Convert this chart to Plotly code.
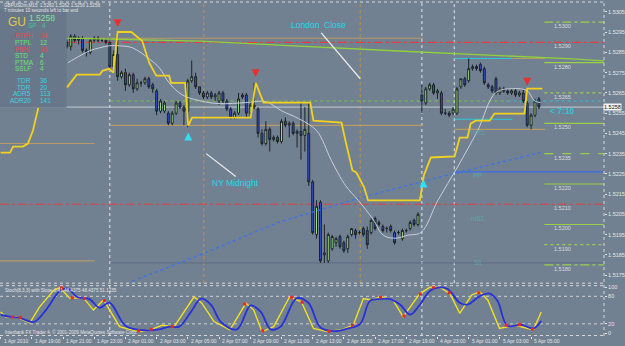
import plotly.graph_objects as go

# ------------------------------------------------------------------ data
candle_idx = list(range(17, 139))
open_ = [1.5290,1.5288,1.5293,1.5291,1.5292,1.5286,1.5285,1.5291,1.5292,1.5291,1.5291,
         1.5290,1.5278,1.5284,1.5273,1.5275,1.5269,1.5274,1.5267,1.5270,1.5270,
         1.5272,1.5269,1.5266,1.5256,1.5256,1.5255,1.5250,1.5255,1.5260,1.5258,
         1.5256,1.5271,1.5273,1.5268,1.5265,1.5263,1.5265,1.5263,1.5261,1.5265,
         1.5261,1.5257,1.5253,1.5255,1.5264,1.5264,1.5255,1.5259,1.5257,1.5245,
         1.5240,1.5247,1.5242,1.5243,1.5241,1.5251,1.5249,1.5250,1.5245,1.5246,
         1.5244,1.5245,1.5221,1.5195,1.5211,1.5185,1.5182,1.5188,1.5191,1.5194,
         1.5191,1.5188,1.5195,1.5197,1.5196,1.5198,1.5197,1.5196,1.5203,1.5200,
         1.5199,1.5198,1.5199,1.5196,1.5196,1.5193,1.5197,1.5198,1.5202,1.5200,
         1.5264,1.5260,1.5267,1.5269,1.5265,1.5265,1.5255,1.5255,1.5255,1.5255,
         1.5268,1.5272,1.5271,1.5277,1.5278,1.5279,1.5277,1.5269,1.5268,1.5272,
         1.5265,1.5267,1.5266,1.5265,1.5266,1.5264,1.5265,1.5260,1.5249,1.5254,1.5262]
high_ = [1.5291,1.5294,1.5294,1.5293,1.5293,1.5287,1.5292,1.5293,1.5293,1.5292,1.5292,
         1.5292,1.5286,1.5295,1.5276,1.5277,1.5275,1.5275,1.5272,1.5271,1.5273,
         1.5273,1.5270,1.5267,1.5262,1.5261,1.5256,1.5256,1.5261,1.5261,1.5259,
         1.5272,1.5281,1.5275,1.5268,1.5266,1.5266,1.5266,1.5265,1.5266,1.5266,
         1.5262,1.5258,1.5256,1.5265,1.5265,1.5265,1.5261,1.5270,1.5258,1.5247,
         1.5251,1.5248,1.5244,1.5244,1.5252,1.5253,1.5251,1.5251,1.5247,1.5260,
         1.5258,1.5260,1.5222,1.5212,1.5212,1.5200,1.5196,1.5195,1.5194,1.5195,
         1.5192,1.5195,1.5198,1.5198,1.5197,1.5199,1.5199,1.5203,1.5204,1.5202,
         1.5200,1.5199,1.5200,1.5197,1.5197,1.5198,1.5198,1.5202,1.5203,1.5206,
         1.5269,1.5268,1.5270,1.5270,1.5267,1.5266,1.5257,1.5256,1.5258,1.5268,
         1.5272,1.5273,1.5282,1.5279,1.5279,1.5280,1.5278,1.5270,1.5269,1.5273,
         1.5268,1.5268,1.5267,1.5267,1.5267,1.5266,1.5267,1.5261,1.5255,1.5262,1.5263]
low_ = [1.5287,1.5286,1.5290,1.5289,1.5285,1.5283,1.5284,1.5290,1.5290,1.5290,1.5289,
        1.5276,1.5277,1.5271,1.5272,1.5266,1.5268,1.5265,1.5266,1.5268,1.5269,
        1.5267,1.5265,1.5254,1.5255,1.5255,1.5249,1.5249,1.5254,1.5257,1.5249,
        1.5248,1.5270,1.5267,1.5264,1.5262,1.5262,1.5262,1.5261,1.5259,1.5260,
        1.5256,1.5252,1.5252,1.5254,1.5262,1.5253,1.5253,1.5257,1.5243,1.5239,
        1.5239,1.5236,1.5241,1.5240,1.5240,1.5248,1.5243,1.5244,1.5238,1.5232,
        1.5236,1.5219,1.5195,1.5193,1.5181,1.5181,1.5181,1.5187,1.5189,1.5188,
        1.5186,1.5186,1.5194,1.5193,1.5195,1.5194,1.5188,1.5195,1.5197,1.5199,
        1.5196,1.5196,1.5196,1.5190,1.5195,1.5192,1.5196,1.5197,1.5199,1.5199,
        1.5255,1.5259,1.5266,1.5264,1.5262,1.5254,1.5254,1.5253,1.5254,1.5254,
        1.5267,1.5268,1.5270,1.5276,1.5276,1.5275,1.5269,1.5267,1.5265,1.5264,
        1.5264,1.5265,1.5264,1.5264,1.5263,1.5263,1.5260,1.5248,1.5247,1.5253,1.5257]
close_ = [1.5288,1.5293,1.5291,1.5292,1.5286,1.5285,1.5291,1.5292,1.5291,1.5291,1.5290,
          1.5278,1.5284,1.5273,1.5275,1.5269,1.5274,1.5267,1.5270,1.5270,1.5272,
          1.5268,1.5267,1.5256,1.5261,1.5260,1.5250,1.5255,1.5260,1.5258,1.5256,
          1.5271,1.5273,1.5268,1.5265,1.5263,1.5265,1.5263,1.5264,1.5265,1.5261,
          1.5257,1.5253,1.5255,1.5262,1.5263,1.5255,1.5259,1.5258,1.5245,1.5240,
          1.5247,1.5242,1.5243,1.5241,1.5251,1.5249,1.5250,1.5245,1.5246,1.5244,
          1.5247,1.5221,1.5196,1.5209,1.5182,1.5186,1.5195,1.5194,1.5193,1.5189,
          1.5187,1.5194,1.5198,1.5195,1.5196,1.5195,1.5190,1.5202,1.5198,1.5201,
          1.5197,1.5198,1.5197,1.5191,1.5196,1.5197,1.5197,1.5201,1.5200,1.5205,
          1.5261,1.5267,1.5269,1.5265,1.5266,1.5255,1.5255,1.5254,1.5257,1.5267,
          1.5272,1.5269,1.5277,1.5278,1.5277,1.5276,1.5270,1.5268,1.5266,1.5265,
          1.5267,1.5266,1.5265,1.5266,1.5264,1.5265,1.5261,1.5249,1.5254,1.5261,1.5258]

# stepped yellow indicator (vertices)
yellow_idx = [0, 2.4, 3.2, 5.7, 7.0, 8.3, 10.1, 11.3, 17.2, 19.5, 25.4, 26.1, 27.9, 28.9, 30.0,
              33.5, 36.3, 38.1, 39.9, 43.2, 43.7, 47.3, 48.1, 49.1, 64.1, 65.4, 67.4, 79.4, 80.2,
              87.4, 88.4, 90.2, 91.2, 93.2, 94.2, 107.5, 108.5, 110.3, 116.4, 117.7, 119.7, 120.5,
              121.8, 125.4, 126.6, 134.3, 135.0, 138.9]
yellow_val = [1.52355, 1.52355, 1.52385, 1.52385, 1.5240, 1.52464, 1.52612, 1.52671, 1.52681, 1.5274,
              1.5274, 1.52759, 1.52769, 1.5275, 1.52951, 1.52951, 1.52907, 1.52799, 1.52735, 1.52735,
              1.5270, 1.5270, 1.52488, 1.52528, 1.52528, 1.5270, 1.52602, 1.52602, 1.52513, 1.52503,
              1.52415, 1.52267, 1.52257, 1.52183, 1.52119, 1.52119, 1.52242, 1.52331, 1.52336, 1.52429,
              1.52429, 1.52498, 1.52513, 1.52513, 1.52548, 1.52548, 1.52671, 1.52671]

# light grey moving average (vertices)
ma_idx = [17.2, 20.3, 22.8, 25.4, 27.9, 30.5, 33.8, 38.1, 40.7, 43.2, 46.5, 50.9, 56.0, 62.9, 68.0,
          72.0, 76.4, 81.0, 84.8, 88.4, 91.7, 95.5, 98.1, 101.1, 104.4, 107.8, 112.1, 117.2, 122.3,
          126.9, 131.2, 135.0, 136.8, 138.4]
ma_val = [1.52799, 1.52833, 1.52858, 1.52873, 1.52883, 1.52883, 1.52873, 1.52818, 1.52774, 1.5270,
          1.52641, 1.52612, 1.52597, 1.52602, 1.52607, 1.52562, 1.52523, 1.52464, 1.52316, 1.52193,
          1.52119, 1.52025, 1.51947, 1.51932, 1.51947, 1.51961, 1.52119, 1.52286, 1.52464, 1.52651,
          1.52671, 1.52661, 1.52612, 1.52602]

# blue dotted trend line
trend_idx = [33.8, 50.9, 71.3, 91.7, 112.1, 138.4]
trend_val = [1.5172, 1.51848, 1.52011, 1.52129, 1.52232, 1.52355]

# green descending line
green_idx = [17.2, 50.9, 101.9, 137.6, 146.5, 154.7]
green_val = [1.52921, 1.52906, 1.52857, 1.52828, 1.52818, 1.52808]

# signal arrows
sell_idx = [30.0, 65.4, 135.0]
sell_val = [1.52975, 1.52728, 1.52685]
buy_idx = [48.1, 108.4]
buy_val = [1.52455, 1.52222]

# pivot levels on the right
pivot_levels = [1.5300, 1.5280, 1.5265, 1.5250, 1.5235, 1.5220, 1.5200, 1.5190, 1.5180]
pivot_dash = ["dashdot", "solid", "dot", "solid", "dash", "solid", "solid", "dot", "dashdot"]
pivot_labels = ["1.5310", "1.5300", "1.5290", "1.5280", "1.5265", "1.5250", "1.5235",
                "1.5220", "1.5210", "1.5200", "1.5190", "1.5180"]
pivot_label_vals = [1.5310, 1.5300, 1.5290, 1.5280, 1.5265, 1.5250, 1.5235,
                    1.5220, 1.5210, 1.5200, 1.5190, 1.5180]

# other horizontal levels: (price, idx from, idx to)
red_levels = [(1.5290, 17.2, 154.7), (1.5210, -0.2, 154.7)]
tan_levels = [(1.5292, 17.2, 108.3), (1.5249, 28.2, 108.3), (1.5240, -0.2, 24.1),
              (1.5182, -0.2, 24.1), (1.5282, 131.2, 139.6), (1.5247, 116.4, 139.6)]
cyan_levels = [(1.5282, 116.4, 131.2), (1.5252, 116.4, 131.2)]
bid_price = 1.5258

# stochastic
stoch_k_idx = [0, 1.4, 4.0, 7.5, 10.0, 13.6, 15.2, 17.7, 21.3, 23.8, 26.4, 30.5, 33.5, 35.8, 38.4,
               41.4, 44.5, 47.0, 49.6, 51.6, 54.7, 58.8, 62.9, 64.9, 67.0, 70.0, 74.1, 77.1, 80.2,
               83.8, 87.3, 90.4, 93.0, 95.0, 97.6, 100.6, 103.2, 105.7, 107.5, 110.1, 112.6, 115.2,
               117.7, 120.8, 122.8, 124.9, 127.9, 132.0, 135.1, 136.6, 138.6]
stoch_k = [46, 35, 35, 22, 57, 93, 99, 76, 76, 50, 72, 14, 7, 3, 7, 17, 14, 46, 79, 65, 25, 7, 65,
           50, 3, 14, 79, 68, 10, 3, 7, 17, 75, 72, 79, 72, 35, 65, 86, 100, 100, 86, 43, 83, 90,
           72, 10, 17, 10, 7, 46]
stoch_d_idx = [0, 1.9, 4.9, 8.5, 11.6, 15.2, 17.2, 19.7, 22.8, 25.4, 27.9, 32.0, 35.6, 40.7, 43.2,
               45.8, 48.8, 51.4, 53.9, 56.5, 60.6, 64.1, 66.7, 69.2, 71.8, 75.9, 78.9, 82.0, 85.6,
               89.1, 92.2, 94.7, 97.3, 99.8, 102.4, 105.0, 107.5, 110.1, 112.1, 114.6, 117.7, 119.7,
               122.8, 125.4, 127.4, 129.9, 133.5, 136.6, 138.6]
stoch_d = [40, 36, 33, 24, 50, 92, 97, 78, 74, 55, 66, 16, 7, 8, 14, 14, 46, 75, 62, 24, 8, 60, 46,
           8, 14, 76, 66, 12, 4, 10, 20, 70, 74, 74, 62, 40, 62, 92, 99, 96, 66, 62, 80, 86, 70, 16,
           18, 10, 26]
stoch_red_idx = [3, 5, 15.6, 18.4, 21.5, 26.6, 35.4, 38.6, 44.0, 62.6, 67.2, 74.6, 77.3, 84.2,
                 90.2, 97.4, 103.4, 107.6, 111.0, 115.0, 122.6, 129.6, 133.0, 136.4]
stoch_red = [35, 34, 98, 77, 75, 71, 5, 8, 14, 63, 5, 78, 67, 4, 17, 78, 37, 85, 100, 88, 88, 17,
             18, 8]

x_tick_idx = [0, 8, 16, 24, 32, 40, 48, 56, 64, 72, 80, 88, 96, 104, 112, 120, 128, 136]
x_tick_text = ["1 Apr 2010", "1 Apr 19:00", "1 Apr 21:00", "1 Apr 23:00", "2 Apr 01:00",
               "2 Apr 03:00", "2 Apr 05:00", "2 Apr 07:00", "2 Apr 09:00", "2 Apr 11:00",
               "2 Apr 13:00", "2 Apr 15:00", "2 Apr 17:00", "2 Apr 19:00", "4 Apr 23:00",
               "5 Apr 01:00", "5 Apr 03:00", "5 Apr 05:00"]
price_ticks = [1.5305, 1.5295, 1.5285, 1.5275, 1.5265, 1.5255, 1.5245, 1.5235, 1.5225,
               1.5215, 1.5205, 1.5195, 1.5185, 1.5175]
stoch_ticks = [0, 20, 80, 100]

# ------------------------------------------------------------------ style / layout
W, H = 625, 346
PW, PH = 607, 336
BG = "#718192"
FONT = "Liberation Sans, Arial, sans-serif"
WHITE = "#e6e6e6"
CYAN = "#22d8ec"
PIVOT_GREEN = "#9ccf48"
TAN = "#b89a66"


def pxx(px):
    return px / PW


def pxy(py):
    return 1 - py / PH


fig = go.Figure()

fig.add_trace(go.Candlestick(
    x=candle_idx, open=open_, high=high_, low=low_, close=close_,
    increasing=dict(fillcolor="#a4ee84", line=dict(color="#1e2228", width=1)),
    decreasing=dict(fillcolor="#2f4fcf", line=dict(color="#1e2228", width=1)),
    whiskerwidth=0, xaxis="x", yaxis="y", hoverinfo="skip"))

fig.add_trace(go.Scatter(x=green_idx, y=green_val, mode="lines",
                         line=dict(color="#8fd03c", width=1.3), xaxis="x", yaxis="y"))
fig.add_trace(go.Scatter(x=trend_idx, y=trend_val, mode="lines",
                         line=dict(color="#3a72f0", width=1.3, dash="dot"), xaxis="x", yaxis="y"))
fig.add_trace(go.Scatter(x=ma_idx, y=ma_val, mode="lines", line_shape="spline",
                         line=dict(color="#c9ced8", width=1), xaxis="x", yaxis="y"))
fig.add_trace(go.Scatter(x=yellow_idx, y=yellow_val, mode="lines",
                         line=dict(color="#f2d21e", width=1.8), xaxis="x", yaxis="y"))
fig.add_trace(go.Scatter(x=sell_idx, y=sell_val, mode="markers",
                         marker=dict(symbol="arrow-down", size=8, color="#e83030"),
                         xaxis="x", yaxis="y"))
fig.add_trace(go.Scatter(x=buy_idx, y=buy_val, mode="markers",
                         marker=dict(symbol="arrow-up", size=8, color="#30e0f0"),
                         xaxis="x", yaxis="y"))

# stochastic
fig.add_trace(go.Scatter(x=stoch_k_idx, y=stoch_k, mode="lines",
                         line=dict(color="#f2e024", width=1.4), xaxis="x", yaxis="y2"))
fig.add_trace(go.Scatter(x=stoch_d_idx, y=stoch_d, mode="lines", line_shape="spline",
                         line=dict(color="#2830d8", width=1.8), xaxis="x", yaxis="y2"))
fig.add_trace(go.Scatter(x=stoch_red_idx, y=stoch_red, mode="markers",
                         marker=dict(symbol="square", size=3, color="#e82828"),
                         xaxis="x", yaxis="y2"))

shapes = []


def hline(price, x0, x1, color, dash="solid", width=1):
    shapes.append(dict(type="line", xref="x", yref="y", x0=x0, x1=x1, y0=price, y1=price,
                       line=dict(color=color, width=width, dash=dash), layer="below"))


for p, a, b in tan_levels:
    hline(p, a, b, TAN, "solid", 1.2)
for p, a, b in cyan_levels:
    hline(p, a, b, "#2cc8d8", "solid", 1.2)
for p, a, b in red_levels:
    hline(p, a, b, "#e04040", "dashdot", 1.2)
for p, d in zip(pivot_levels, pivot_dash):
    hline(p, 139.4, 154.7, PIVOT_GREEN, d, 1.2)
hline(1.5226, 116.4, 154.7, "#3a6ee8", "solid", 1.2)
hline(1.5181, 28.2, 154.7, "#5c6c82", "solid", 1)
hline(1.5261, 28.2, 130.0, "#78c840", "dot", 1.2)
hline(1.5261, 130.0, 154.7, "#30c0d0", "dot", 1.2)
hline(bid_price, -0.2, 154.7, "#c6ccd4", "solid", 1)

# vertical separators
for xi, col, y0 in [(28, WHITE, 0), (108, WHITE, 0), (116.3, WHITE, pxy(283)),
                    (52.1, "#c8923c", pxy(283)), (92.2, "#c8923c", pxy(283))]:
    shapes.append(dict(type="line", xref="x", yref="paper", x0=xi, x1=xi, y0=y0, y1=pxy(1),
                       line=dict(color=col, width=1, dash="dot"), layer="below"))

# frame lines
for py in [1, 283, 285.5, 335.5]:
    shapes.append(dict(type="line", xref="paper", yref="paper", x0=0, x1=1, y0=pxy(py), y1=pxy(py),
                       line=dict(color="#d8d8d8", width=1, dash="dot")))
shapes.append(dict(type="line", xref="paper", yref="paper", x0=1, x1=1, y0=0, y1=1,
                   line=dict(color="#d8d8d8", width=1, dash="dot")))
# stochastic grid levels
for lv in [20, 80]:
    shapes.append(dict(type="line", xref="paper", yref="y2", x0=0, x1=1, y0=lv, y1=lv,
                       line=dict(color="#d0d0d0", width=1, dash="dot"), layer="below"))

# pointer lines for session notes
shapes.append(dict(type="line", xref="x", yref="y", x0=82.2, x1=92.2, y0=1.52947, y1=1.5272,
                   line=dict(color="#eeeeee", width=1.2)))
shapes.append(dict(type="line", xref="x", yref="y", x0=52.7, x1=60.3, y0=1.5235, y1=1.52237,
                   line=dict(color="#eeeeee", width=1.2)))

# info panel background
shapes.append(dict(type="rect", xref="paper", yref="paper", x0=0, x1=pxx(67), y0=pxy(107),
                   y1=pxy(8), fillcolor="#68788a", line=dict(width=0), layer="above"))

ann = []


def txt(px, py, text, color=WHITE, size=7, anchor="left", bold=False, bg=None):
    d = dict(xref="paper", yref="paper", x=pxx(px), y=pxy(py), text=("<b>%s</b>" % text) if bold else text,
             showarrow=False, xanchor=anchor, yanchor="middle",
             font=dict(family=FONT, size=size, color=color))
    if bg:
        d["bgcolor"] = bg
        d["borderpad"] = 0
    ann.append(d)


txt(2, 4.5, "GBPUSDm,M15  1.5262 1.5262 1.5256 1.5258", WHITE, 4.6)
txt(2, 10, "7 minutes 10 seconds left to bar end", WHITE, 4.6)
txt(6, 21, "GU", "#e2c848", 12)
txt(27, 17, "1.5258", "#86e0a0", 8.5)
txt(26, 24.5, "SP", "#38c89a", 6.5)
txt(40, 24.5, "4", "#38c89a", 6.5)

RED_T, GRN_T = "#e04848", "#6ee070"
info_a = [("PTPH", "34", RED_T), ("PTPL", "12", GRN_T), ("PIPS", "35", RED_T),
          ("STD", "4", GRN_T), ("PTMA", "6", GRN_T), ("SSLF", "4", GRN_T)]
for i, (k, v, c) in enumerate(info_a):
    txt(13, 35 + i * 6.6, k, c, 6.5)
    txt(38, 35 + i * 6.6, v, c, 6.5)
info_b = [("TDR", "36"), ("TDR", "20"), ("ADR5", "113"), ("ADR20", "141")]
for i, (k, v) in enumerate(info_b):
    txt(33, 80 + i * 6.5, k, "#3cd0e0", 6.5, anchor="right")
    txt(38, 80 + i * 6.5, v, "#3cd0e0", 6.5)

txt(320, 24, "London  Close", CYAN, 8.5, anchor="center")
txt(237, 183, "NY Midnight", CYAN, 8.5, anchor="center")
txt(565, 110, "&lt; 7:10", "#28c8d8", 8.5, anchor="center", bold=True)

for lab, val in zip(pivot_labels, pivot_label_vals):
    ann.append(dict(xref="x", yref="y", x=144.0, y=val, text=lab, showarrow=False,
                    xanchor="center", yanchor="top", yshift=1,
                    font=dict(family=FONT, size=5.5, color="#dcdcdc")))

for lab, py in [("mR1", 132), ("PP", 175), ("mS1", 218), ("S1", 262)]:
    txt(480, py, lab, "#5fa6ae", 6.5, anchor="center")

txt(616, 106, "1.5258", "#111111", 5.5, anchor="center", bg="#f4f4f4")

txt(3, 290, "Stoch(8,3,3) with Slope 3.41 48.4375 48.4375 51.1235", WHITE, 4.6)
txt(3, 331.5, "Interbank FX Trader 4, © 2001-2009 MetaQuotes Software Corp.", WHITE, 4.6)

for xi, lab in zip(x_tick_idx, x_tick_text):
    ann.append(dict(xref="x", yref="paper", x=xi, y=pxy(341.5), text=lab, showarrow=False,
                    xanchor="left", yanchor="middle", xshift=1,
                    font=dict(family=FONT, size=5, color=WHITE)))

fig.update_layout(
    width=W, height=H, margin=dict(l=0, r=18, t=0, b=10),
    paper_bgcolor=BG, plot_bgcolor=BG, showlegend=False, dragmode=False,
    hovermode=False,
    xaxis=dict(domain=[0, 1], range=[-0.153, 154.69], anchor="y2", showgrid=False,
               zeroline=False, showline=False, tickvals=x_tick_idx, ticks="outside",
               ticklen=2, tickcolor=WHITE, showticklabels=False,
               rangeslider=dict(visible=False), fixedrange=True),
    yaxis=dict(domain=[1 - 283 / PH, 1 - 2 / PH], range=[1.517101, 1.530943], side="right",
               anchor="x", showgrid=False, zeroline=False, showline=False,
               tickvals=price_ticks, ticktext=["%.4f" % v for v in price_ticks],
               ticks="outside", ticklen=2, tickcolor=WHITE,
               tickfont=dict(family=FONT, size=5.5, color=WHITE), fixedrange=True),
    yaxis2=dict(domain=[0, 1 - 285 / PH], range=[-6.52, 104.35], side="right", anchor="x",
                showgrid=False, zeroline=False, showline=False, tickvals=stoch_ticks,
                ticktext=[str(v) for v in stoch_ticks], ticks="outside", ticklen=2,
                tickcolor=WHITE, tickfont=dict(family=FONT, size=5.5, color=WHITE),
                fixedrange=True),
    shapes=shapes, annotations=ann,
)

fig.write_html("out.html", config={"displayModeBar": False, "staticPlot": True})
